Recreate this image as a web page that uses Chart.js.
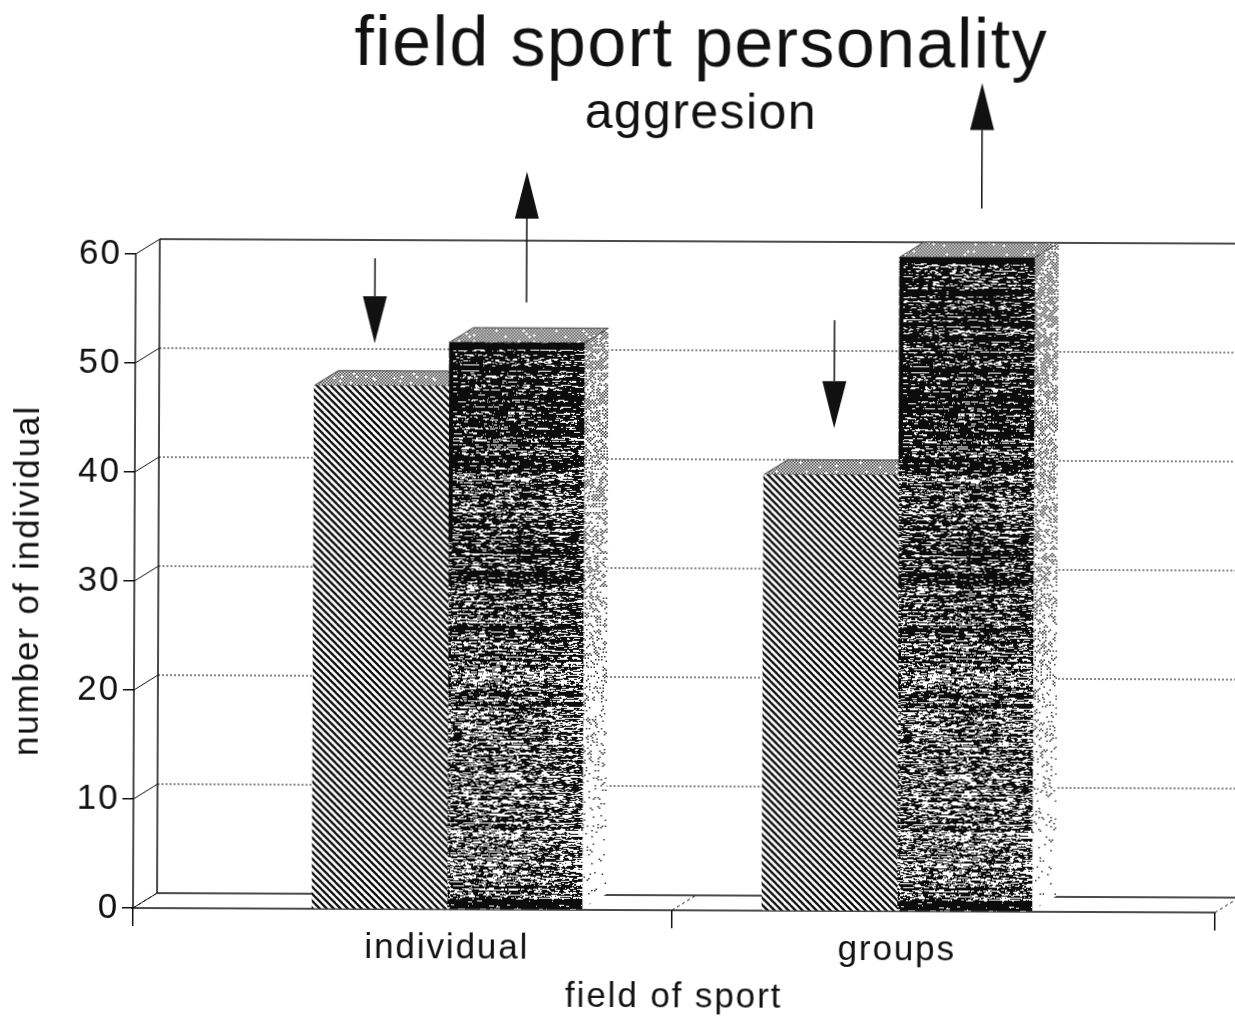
<!DOCTYPE html>
<html><head><meta charset="utf-8">
<style>
html,body{margin:0;padding:0;background:#fff;overflow:hidden;width:1235px;height:1019px}
#wrap{position:absolute;left:0;top:0;width:1235px;height:1019px;transform-origin:133px 908px;transform:rotate(0.24deg)}
</style>
<script src="https://cdn.jsdelivr.net/npm/chart.js@4"></script>
</head><body><div id="wrap"><canvas id="c" width="1235" height="1019"></canvas></div>
<script>
const categories = ['individual', 'groups'];
const categoryPositions = [1, 2];
const seriesLow = [48, 40];
const seriesHigh = [52, 60];
const yTicks = [0, 10, 20, 30, 40, 50, 60];
const xDividers = [0.302, 1.5, 2.707];
const arrowX = [0.834, 1.171, 1.856, 2.182];
const arrowTail = [59.7, 55.7, 54.2, 64.5];
const arrowTip = [51.9, 67.7, 44.3, 76.0];
const titleText = 'field sport personality';
const subtitleText = 'aggresion';
const xTitle = 'field of sport';
const yTitle = 'number of individual';

const FONT = '"Liberation Sans", Arial, sans-serif';
const INK = '#111';
const DEPTH_X = 24, DEPTH_Y = -15;

function rng(seed){let s=seed>>>0;return()=>{s=(Math.imul(s,1664525)+1013904223)>>>0;return s/4294967296;};}
function tile(w,h){const t=document.createElement('canvas');t.width=w;t.height=h;return t;}

function hatchPattern(ctx){
  const t=tile(7,7),g=t.getContext('2d');
  g.fillStyle='#fff';g.fillRect(0,0,7,7);
  g.strokeStyle='#111';g.lineWidth=2.3;
  for(let o=-7;o<=7;o+=7){g.beginPath();g.moveTo(o-2,-2);g.lineTo(o+9,9);g.stroke();}
  return ctx.createPattern(t,'repeat');
}
function densityAt(y){
  if(y>=897) return .9;
  if(y<460) return .82;
  if(y<660) return .72;
  if(y<760) return .6;
  return .52;
}
function darkTexture(ctx){
  const W=450,H=1019,t=tile(W,H),g=t.getContext('2d'),r=rng(20240611);
  g.fillStyle='#fff';g.fillRect(0,0,W,H);g.fillStyle='#0c0c0c';
  let y=0;
  while(y<H){
    const rows=1+Math.floor(r()*2);
    const rowShift=(r()-.5)*.55;
    for(let k=0;k<rows;k++,y++){
      const dark=Math.min(.98,Math.max(.08,densityAt(y)+rowShift));
      let x=0;
      while(x<W){
        const isDark=r()<dark, run=1+Math.floor(r()*r()*8);
        if(isDark) g.fillRect(x,y,run,1);
        x+=run;
      }
    }
  }
  return ctx.createPattern(t,'repeat');
}
function stipple(ctx,seed,fn){
  const W=60,H=1019,t=tile(W,H),g=t.getContext('2d'),r=rng(seed);
  g.fillStyle='#fff';g.fillRect(0,0,W,H);g.fillStyle='#333';
  let row=0;
  for(let y=0;y<H;y+=1.5,row++)for(let x=row%2?1.5:0;x<W;x+=3){
    if(r()<fn(y)) g.fillRect(x,y,1.5,1.5);
  }
  return ctx.createPattern(t,'repeat');
}

const canvas=document.getElementById('c');
const ctx0=canvas.getContext('2d');
const hatch=hatchPattern(ctx0), dark=darkTexture(ctx0);
const topFace=stipple(ctx0,77,()=>.95);
const sideFace=stipple(ctx0,91,y=>Math.max(.06,.75-Math.max(0,y-330)*.0013));
const AXIS_SPACING='1.9px', TITLE_SPACING='1.4px';

const wallPlugin={
  id:'wall',
  beforeLayout(chart){chart.ctx.letterSpacing=AXIS_SPACING;},
  afterLayout(chart){
    chart.boxes.forEach(b=>{
      if(b.options&&b.options.text!==undefined&&b.isHorizontal&&!b.axis){
        b.left+=90;b.right+=90;
        if(!b._spaced){
          const draw=b.draw;
          b.draw=function(){
            const c=this.ctx,prev=c.letterSpacing;
            c.letterSpacing=TITLE_SPACING;draw.apply(this,arguments);c.letterSpacing=prev;
          };
          b._spaced=true;
        }
      }
    });
  },
  beforeDraw(chart){chart.ctx.letterSpacing=AXIS_SPACING;},
  beforeDatasetsDraw(chart){
    const {ctx,scales:{x,y}}=chart;
    const L=x.left,R=x.right,B=y.bottom,T=y.top;
    ctx.save();
    ctx.strokeStyle=INK;ctx.lineWidth=1.5;
    ctx.beginPath();
    ctx.moveTo(L,T);ctx.lineTo(L,B);
    ctx.moveTo(L+DEPTH_X,T+DEPTH_Y);ctx.lineTo(L+DEPTH_X,B+DEPTH_Y);
    ctx.moveTo(L+DEPTH_X,T+DEPTH_Y);ctx.lineTo(chart.width+10,T+DEPTH_Y);
    ctx.moveTo(L+DEPTH_X,B+DEPTH_Y);ctx.lineTo(chart.width+10,B+DEPTH_Y);
    ctx.moveTo(L-2,B);ctx.lineTo(R,B);
    ctx.stroke();
    ctx.lineWidth=1.2;ctx.setLineDash([2,2]);
    ctx.beginPath();
    yTicks.forEach(v=>{
      if(v===0||v===60) return;
      const p=y.getPixelForValue(v);
      ctx.moveTo(L+DEPTH_X,p+DEPTH_Y);ctx.lineTo(chart.width+10,p+DEPTH_Y);
    });
    ctx.stroke();
    ctx.lineWidth=1;ctx.setLineDash([]);
    ctx.beginPath();
    yTicks.forEach(v=>{const p=y.getPixelForValue(v);ctx.moveTo(L,p);ctx.lineTo(L+DEPTH_X,p+DEPTH_Y);});
    ctx.stroke();
    ctx.setLineDash([3,3]);
    ctx.beginPath();
    xDividers.forEach(v=>{const p=x.getPixelForValue(v);ctx.moveTo(p,B);ctx.lineTo(p+DEPTH_X,B+DEPTH_Y);});
    ctx.stroke();
    ctx.setLineDash([]);
    chart.data.datasets.forEach((d,i)=>{
      chart.getDatasetMeta(i).data.forEach(bar=>{
        const l=bar.x-bar.width/2,r=bar.x+bar.width/2,t=bar.y,b=bar.base;
        ctx.fillStyle=sideFace;
        ctx.beginPath();ctx.moveTo(r,t);ctx.lineTo(r+DEPTH_X,t+DEPTH_Y);ctx.lineTo(r+DEPTH_X,b+DEPTH_Y);ctx.lineTo(r,b);ctx.closePath();ctx.fill();
        ctx.fillStyle=topFace;
        ctx.beginPath();ctx.moveTo(l,t);ctx.lineTo(l+DEPTH_X,t+DEPTH_Y);ctx.lineTo(r+DEPTH_X,t+DEPTH_Y);ctx.lineTo(r,t);ctx.closePath();ctx.fill();
        ctx.strokeStyle='#444';ctx.lineWidth=1;ctx.stroke();
      });
    });
    ctx.restore();
  },
  afterDatasetsDraw(chart){
    const {ctx,scales:{x,y}}=chart;
    ctx.save();
    chart.getDatasetMeta(1).data.forEach(bar=>{
      const l=bar.x-bar.width/2;
      ctx.fillStyle='#0c0c0c';
      ctx.fillRect(l,bar.y,bar.width,6);
      ctx.fillRect(l,bar.y,4,200);
    });
    ctx.fillStyle=INK;ctx.strokeStyle=INK;ctx.lineWidth=1.5;
    arrowX.forEach((v,i)=>{
      const px=x.getPixelForValue(v),a=y.getPixelForValue(arrowTail[i]),b=y.getPixelForValue(arrowTip[i]);
      const dir=b>a?1:-1,head=47;
      ctx.beginPath();ctx.moveTo(px,a);ctx.lineTo(px,b-dir*head);ctx.stroke();
      ctx.beginPath();ctx.moveTo(px,b);ctx.lineTo(px-12,b-dir*head);ctx.lineTo(px+12,b-dir*head);ctx.closePath();ctx.fill();
    });
    ctx.restore();
  }
};

new Chart(canvas,{
  type:'bar',
  plugins:[wallPlugin],
  data:{datasets:[
    {label:'low',data:categoryPositions.map((p,i)=>({x:p,y:seriesLow[i]})),backgroundColor:hatch,barThickness:135,borderWidth:0},
    {label:'high',data:categoryPositions.map((p,i)=>({x:p,y:seriesHigh[i]})),backgroundColor:dark,barThickness:135,borderWidth:0}
  ]},
  options:{
    responsive:false,animation:false,
    layout:{padding:{left:0,right:20,top:0,bottom:0}},
    plugins:{
      legend:{display:false},tooltip:{enabled:false},
      title:{display:true,text:titleText,color:INK,font:{family:FONT,size:70,weight:'normal'},padding:{top:3,bottom:0}},
      subtitle:{display:true,text:subtitleText,color:INK,font:{family:FONT,size:50,weight:'normal',lineHeight:1},padding:{top:0,bottom:117}}
    },
    scales:{
      x:{
        type:'linear',offset:false,min:xDividers[0],max:xDividers[2],
        afterBuildTicks(s){s.ticks=[...xDividers,...categoryPositions].sort((a,b)=>a-b).map(v=>({value:v}));},
        afterFit(s){s.height=111;},
        grid:{display:true,offset:false,drawOnChartArea:false,drawTicks:true,tickLength:18,
          tickColor:c=>categoryPositions.includes(c.tick&&c.tick.value)?'rgba(0,0,0,0)':INK,lineWidth:1.5},
        border:{display:false},
        ticks:{autoSkip:false,maxRotation:0,padding:0,color:INK,font:{family:FONT,size:35},
          callback:v=>{const i=categoryPositions.indexOf(v);return i>=0?categories[i]:'';}},
        title:{display:true,text:xTitle,color:INK,font:{family:FONT,size:35},padding:{top:0,bottom:3}}
      },
      y:{
        min:0,max:60,
        afterBuildTicks(s){s.ticks=yTicks.map(v=>({value:v}));},
        afterFit(s){s.width=133;},
        grid:{drawOnChartArea:false,tickLength:11,tickColor:INK,lineWidth:1.5},
        border:{display:false},
        ticks:{padding:3,color:INK,font:{family:FONT,size:35}},
        title:{display:true,text:yTitle,color:INK,font:{family:FONT,size:35},padding:{top:6,bottom:0}}
      }
    }
  }
});
</script></body></html>
